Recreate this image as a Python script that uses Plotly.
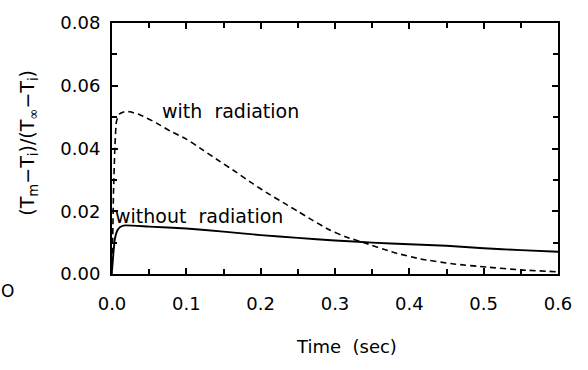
import plotly.graph_objects as go

# data
t_rad = [0.0, 0.001, 0.002, 0.004, 0.006, 0.01, 0.018, 0.024, 0.038, 0.06, 0.078, 0.1, 0.123,
         0.145, 0.168, 0.19, 0.213, 0.235, 0.25, 0.27, 0.293, 0.315, 0.34, 0.38, 0.415, 0.46,
         0.504, 0.55, 0.6]
v_rad = [0.0, 0.012, 0.026, 0.041, 0.0486, 0.051, 0.0518, 0.0517, 0.0507, 0.0481, 0.0456, 0.043,
         0.0394, 0.0359, 0.0323, 0.0287, 0.0252, 0.0221, 0.0200, 0.0171, 0.014, 0.0118, 0.0099,
         0.0068, 0.0048, 0.0032, 0.0022, 0.0013, 0.0007]
t_norad = [0.0, 0.002, 0.004, 0.007, 0.011, 0.0175, 0.05, 0.1, 0.15, 0.2, 0.25, 0.3, 0.35, 0.4,
           0.45, 0.5, 0.55, 0.6]
v_norad = [0.0012, 0.007, 0.0114, 0.0138, 0.015, 0.0155, 0.0151, 0.0145, 0.0135, 0.0124, 0.0115,
           0.0107, 0.0100, 0.0095, 0.0090, 0.0082, 0.0076, 0.0071]
x_ticks = [0.0, 0.1, 0.2, 0.3, 0.4, 0.5, 0.6]
x_tick_labels = ["0.0", "0.1", "0.2", "0.3", "0.4", "0.5", "0.6"]
y_ticks = [0.0, 0.02, 0.04, 0.06, 0.08]
y_tick_labels = ["0.00", "0.02", "0.04", "0.06", "0.08"]

FONT = "DejaVu Sans"
W, H = 588, 370
L, R, T, B = 112, 30, 12, 96
PW, PH = W - L - R, H - T - B


def px2paper(x, y):
    return (x - L) / PW, (H - B - y) / PH


fig = go.Figure()
fig.add_trace(go.Scatter(x=t_rad, y=v_rad, mode="lines",
                         line=dict(color="black", width=1.6, dash="6px,4px", shape="spline", smoothing=0.5),
                         showlegend=False))
fig.add_trace(go.Scatter(x=t_norad, y=v_norad, mode="lines",
                         line=dict(color="black", width=1.9, shape="spline", smoothing=0.5),
                         showlegend=False))

fig.add_annotation(x=0.0646, y=0.0518, text="with\u00a0\u00a0radiation", showarrow=False, xanchor="left",
                   yanchor="middle", font=dict(family=FONT, size=19, color="black"))
fig.add_annotation(x=0.0015, y=0.0184, text="without\u00a0\u00a0radiation", showarrow=False, xanchor="left",
                   yanchor="middle", font=dict(family=FONT, size=19, color="black"))

ox, oy = px2paper(7, 292)
fig.add_annotation(x=ox, y=oy, xref="paper", yref="paper", text="O", showarrow=False,
                   xanchor="center", yanchor="middle", font=dict(family=FONT, size=17, color="black"))

tx, ty = px2paper(346, 350)
fig.add_annotation(x=tx, y=ty, xref="paper", yref="paper", text="Time\u00a0\u00a0(sec)", showarrow=False,
                   xanchor="center", yanchor="middle", font=dict(family=FONT, size=18, color="black"))

yx, yy = px2paper(29, 137)
fig.add_annotation(x=yx, y=yy, xref="paper", yref="paper", textangle=-90,
                   xanchor="center", yanchor="middle",
                   text="(T<sub>m</sub>\u2212T<sub>i</sub>)/(T<sub>\u221e</sub>\u2212T<sub>i</sub>)",
                   showarrow=False, font=dict(family=FONT, size=19, color="black"))

axis_common = dict(showline=True, linecolor="black", linewidth=2, mirror="ticks", ticks="inside",
                   tickcolor="black", tickwidth=1.5, ticklen=6, showgrid=False, zeroline=False,
                   tickfont=dict(family=FONT, size=18, color="black"))

fig.update_xaxes(range=[0, 0.6], tickvals=x_ticks, ticktext=x_tick_labels,
                 minor=dict(dtick=0.05, ticks="inside", ticklen=5, tickcolor="black", showgrid=False),
                 ticklabelstandoff=12, **axis_common)
fig.update_yaxes(range=[0, 0.08], tickvals=y_ticks, ticktext=y_tick_labels,
                 minor=dict(dtick=0.01, ticks="inside", ticklen=5, tickcolor="black", showgrid=False),
                 ticklabelstandoff=6, **axis_common)

fig.update_layout(width=W, height=H, margin=dict(l=L, r=R, t=T, b=B),
                  plot_bgcolor="white", paper_bgcolor="white")
fig.write_html("out.html")
